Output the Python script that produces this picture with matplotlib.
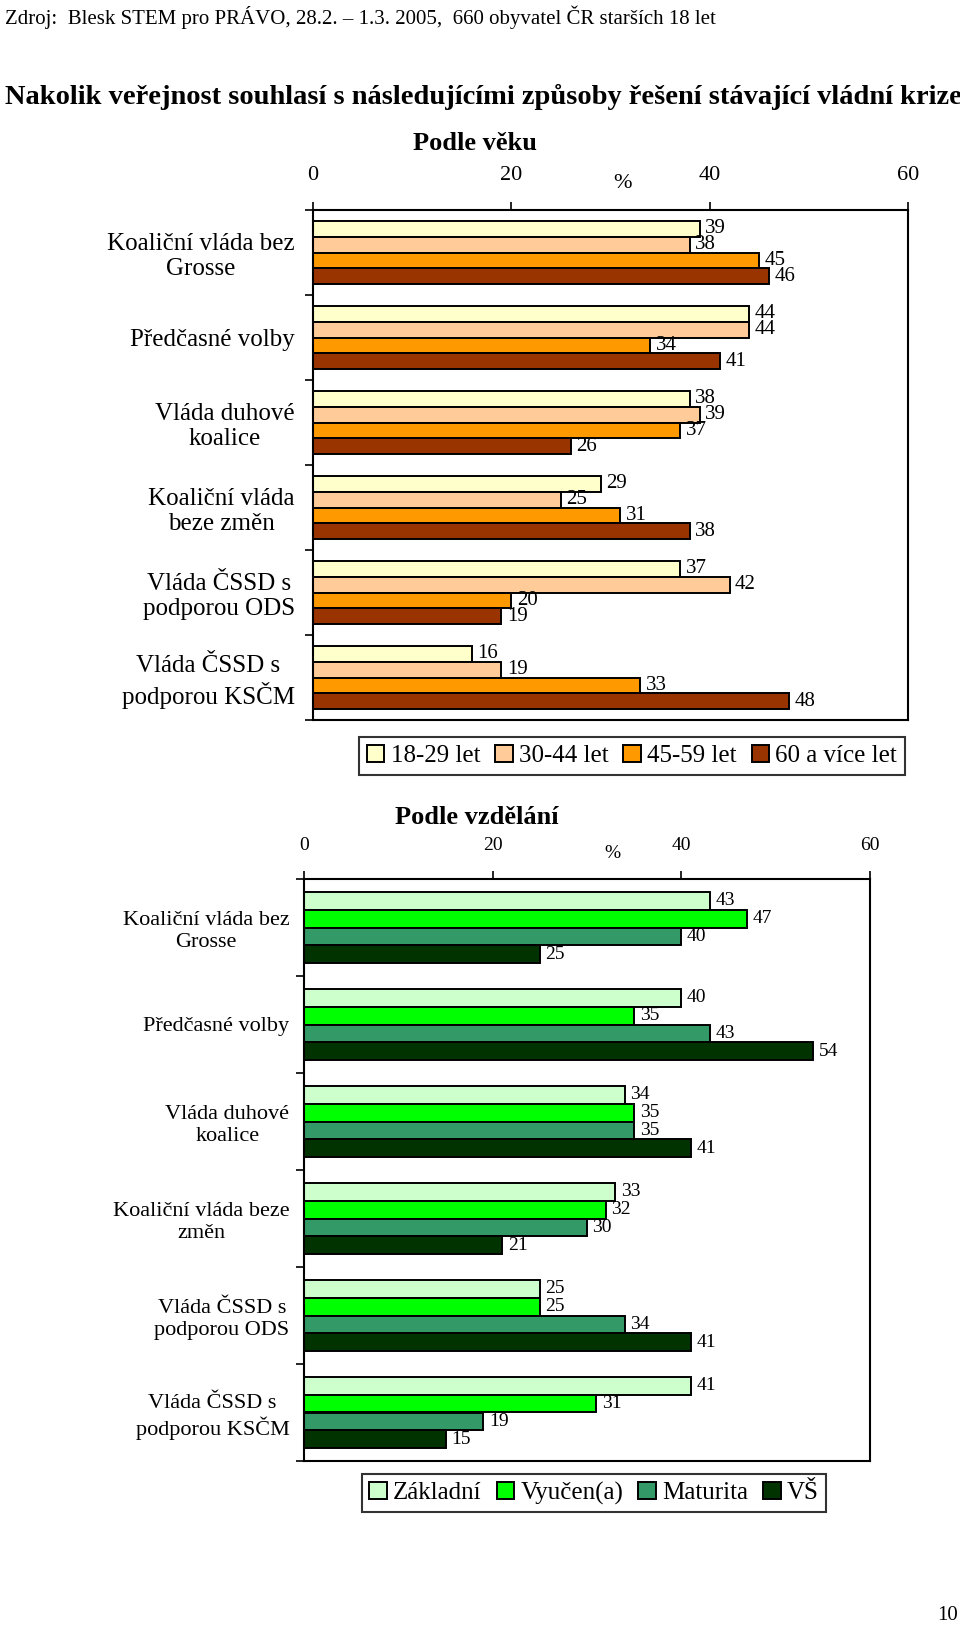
import numpy as np
import matplotlib
matplotlib.use("Agg")
import matplotlib.pyplot as plt

plt.rcParams['font.family'] = ['Liberation Serif', 'DejaVu Serif']

categories = ["Koaliční vláda bez\nGrosse", "Předčasné volby", "Vláda duhové\nkoalice",
              "Koaliční vláda\nbeze změn", "Vláda ČSSD s\npodporou ODS", "Vláda ČSSD s\npodporou KSČM"]
categories_edu = ["Koaliční vláda bez\nGrosse", "Předčasné volby", "Vláda duhové\nkoalice",
                  "Koaliční vláda beze\nzměn", "Vláda ČSSD s\npodporou ODS", "Vláda ČSSD s\npodporou KSČM"]

age_groups = ["18-29 let", "30-44 let", "45-59 let", "60 a více let"]
age_18_29 = [39, 44, 38, 29, 37, 16]
age_30_44 = [38, 44, 39, 25, 42, 19]
age_45_59 = [45, 34, 37, 31, 20, 33]
age_60 = [46, 41, 26, 38, 19, 48]
age_colors = ["#FFFFCC", "#FFCC99", "#FF9900", "#993300"]

edu_groups = ["Základní", "Vyučen(a)", "Maturita", "VŠ"]
edu_zakladni = [43, 40, 34, 33, 25, 41]
edu_vyucen = [47, 35, 35, 32, 25, 31]
edu_maturita = [40, 43, 35, 30, 34, 19]
edu_vs = [25, 54, 41, 21, 41, 15]
edu_colors = ["#CCFFCC", "#00FF00", "#339966", "#003300"]

xticks = [0, 20, 40, 60]

W, H = 960, 1628
fig = plt.figure(figsize=(W / 100, H / 100), dpi=100)


def px(x, y):
    return x / W, 1 - y / H


def panel(rect, series, labels, colors, cats, lab_fs, val_fs, tick_fs, lab_pad):
    ax = fig.add_axes(rect)
    n = len(cats)
    y = np.arange(n)
    h = 0.185
    for j, vals in enumerate(series):
        bars = ax.barh(y + (j - 1.5) * h, vals, height=h, color=colors[j],
                       edgecolor="black", linewidth=1.4, label=labels[j])
        for b, v in zip(bars, vals):
            ax.annotate(str(v), (b.get_width(), b.get_y() + h / 2), xytext=(4, 0),
                        textcoords="offset points", va="center", ha="left",
                        fontsize=val_fs)
    ax.set_xlim(0, 60)
    ax.set_ylim(n - 0.5, -0.5)
    ax.xaxis.tick_top()
    ax.set_xticks(xticks)
    ax.set_xticklabels([str(t) for t in xticks], fontsize=tick_fs)
    ax.tick_params(axis="x", direction="out", length=6, width=1.2, pad=12)
    ax.set_yticks(np.arange(-0.5, n, 1.0))
    ax.set_yticklabels([])
    ax.set_yticks(y, minor=True)
    ax.set_yticklabels(cats, minor=True, fontsize=lab_fs)
    ax.tick_params(axis="y", which="major", direction="out", length=6, width=1.2)
    ax.tick_params(axis="y", which="minor", length=0, pad=lab_pad)
    for t in ax.get_yticklabels(minor=True):
        t.set_multialignment("center")
    for s in ax.spines.values():
        s.set_linewidth(1.5)
    return ax


def legend(ax, center):
    hs, ls = ax.get_legend_handles_labels()
    leg = fig.legend(hs, ls, ncol=4, loc="center", bbox_to_anchor=px(*center), fontsize=18,
                     frameon=True, fancybox=False, edgecolor="black", handlelength=0.7,
                     handleheight=0.7, handletextpad=0.25, columnspacing=0.6,
                     borderpad=0.3, borderaxespad=0)
    leg.get_frame().set_linewidth(1.5)


# age panel
l, b = px(313, 720)
ax1 = panel([l, b, 595 / W, 510 / H], [age_18_29, age_30_44, age_45_59, age_60],
            age_groups, age_colors, categories, 18, 15, 16, 13)
legend(ax1, (632, 756))

# education panel
l, b = px(304, 1461)
ax2 = panel([l, b, 566 / W, 582 / H], [edu_zakladni, edu_vyucen, edu_maturita, edu_vs],
            edu_groups, edu_colors, categories_edu, 16, 14, 14, 10.5)
legend(ax2, (594, 1493))

# texts
fig.text(*px(5, 17), "Zdroj:  Blesk STEM pro PRÁVO, 28.2. – 1.3. 2005,  660 obyvatel ČR starších 18 let",
         fontsize=15, va="center", ha="left")
fig.text(*px(5, 97), "Nakolik veřejnost souhlasí s následujícími způsoby řešení stávající vládní krize",
         fontsize=20.5, fontweight="bold", va="center", ha="left")
fig.text(*px(475, 143), "Podle věku", fontsize=19, fontweight="bold", va="center", ha="center")
fig.text(*px(623, 184), "%", fontsize=16, va="center", ha="center")
fig.text(*px(477, 817), "Podle vzdělání", fontsize=19, fontweight="bold", va="center", ha="center")
fig.text(*px(612, 853), "%", fontsize=14, va="center", ha="center")
fig.text(*px(958, 1615), "10", fontsize=15, va="center", ha="right")

fig.savefig("out.png", dpi=100)
